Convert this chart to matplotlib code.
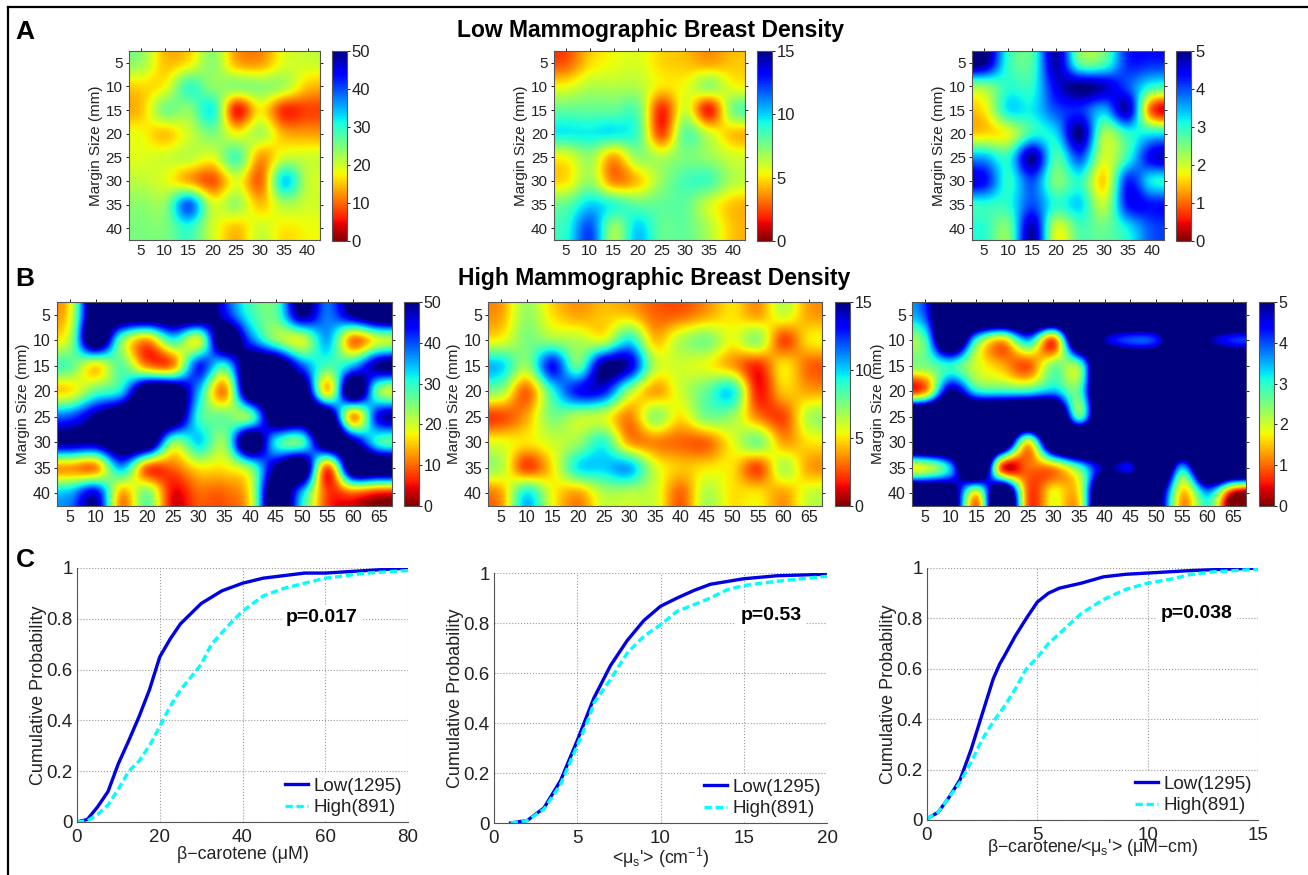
import matplotlib
matplotlib.use("Agg")
import matplotlib.pyplot as plt
import numpy as np

plt.rcParams['font.family'] = ['Liberation Sans', 'DejaVu Sans']
plt.rcParams['mathtext.fontset'] = 'custom'
plt.rcParams['mathtext.rm'] = 'Liberation Sans'
plt.rcParams['mathtext.it'] = 'Liberation Sans:italic'
plt.rcParams['mathtext.default'] = 'regular'

# tick labels
margin_ticks = [5, 10, 15, 20, 25, 30, 35, 40]
wide_ticks = [5, 10, 15, 20, 25, 30, 35, 40, 45, 50, 55, 60, 65]

# low density maps, rows = 5..40 mm, columns = 5..40 mm
low_carotene = [
    [23, 15, 17, 24, 14, 13, 19, 20],
    [16, 18, 29, 24, 24, 24, 22, 15],
    [15, 25, 24, 31, 6, 17, 7, 8],
    [18, 15, 20, 25, 18, 22, 14, 13],
    [19, 20, 21, 19, 28, 13, 20, 20],
    [21, 19, 14, 9, 19, 10, 33, 21],
    [24, 24, 39, 20, 23, 15, 22, 20],
    [25, 25, 30, 20, 15, 20, 17, 18],
]
low_scatter = [
    [2.8, 4.8, 5.5, 5.8, 4.8, 4.5, 4, 4.5],
    [5.5, 6.5, 6.5, 6.5, 5, 5.5, 7, 5.5],
    [8, 8, 8, 8, 2, 6, 1.8, 7.5],
    [9.5, 9.5, 9.5, 8.5, 2.5, 8, 6, 4.5],
    [5.5, 7, 4, 7, 6.5, 7.5, 7, 6],
    [5, 7, 3.5, 4.5, 7, 8.5, 8.5, 6.5],
    [8, 10, 9, 8, 8, 8, 6, 4.5],
    [9, 12, 7, 10, 8, 8, 6.5, 4.5],
]
low_ratio = [
    [5, 3, 2.8, 4.8, 2.7, 2.8, 4.2, 4.2],
    [2.4, 3, 3, 4.5, 5, 4.7, 4, 3],
    [1.7, 3.2, 3.2, 4, 4.2, 3.5, 4.7, 0.9],
    [1.6, 1.9, 3, 3.3, 5, 2.3, 3, 3.2],
    [3.5, 3, 4.9, 2.8, 4, 2, 3, 4.5],
    [4.4, 3, 4, 2.5, 3, 1.6, 4.2, 3.2],
    [3, 3, 4, 3, 3.3, 2.1, 4.3, 4.3],
    [3, 2.5, 4.8, 2, 2.8, 2.6, 3.2, 4],
]

# high density maps, rows = 5..40 mm, columns = 5..65 mm
high_carotene = [
    [18, 60, 60, 60, 60, 60, 45, 30, 27, 50, 38, 50, 60],
    [22, 60, 26, 13, 30, 20, 60, 40, 25, 20, 35, 11, 20],
    [27, 17, 27, 12, 12, 42, 30, 60, 60, 40, 28, 35, 50],
    [17, 27, 33, 60, 60, 35, 12, 60, 60, 60, 16, 60, 25],
    [40, 50, 60, 60, 60, 30, 26, 26, 60, 60, 60, 13, 45],
    [50, 50, 60, 60, 25, 33, 24, 60, 32, 28, 60, 50, 30],
    [13, 12, 35, 10, 10, 17, 17, 25, 50, 60, 10, 60, 60],
    [35, 45, 14, 25, 5, 10, 10, 18, 60, 35, 8, 10, 6],
]
high_scatter = [
    [4, 7, 5, 4, 4.5, 4.5, 3, 3, 4, 5, 4, 6, 4],
    [5.5, 7.5, 7, 6.5, 6, 9.5, 4.5, 6.5, 7.5, 5.5, 7, 2.5, 5],
    [10, 7, 13, 8, 15, 14, 6.5, 6, 5.5, 4, 2, 5, 3],
    [7, 3, 9, 13, 13, 7, 4, 6, 8, 9.5, 1.8, 4.5, 4],
    [2.5, 4, 7.5, 6.5, 6, 3.5, 7, 5, 7.5, 7, 3.5, 2.5, 6.5],
    [5.5, 5, 6, 7, 9, 4, 3.5, 3, 3, 5.5, 7.5, 4, 5],
    [6.5, 2.5, 5, 9.5, 10, 10.5, 6, 4.5, 5, 5, 2.5, 6.5, 4],
    [4, 9.5, 5.5, 4, 6.5, 6.5, 6, 3, 6.5, 5, 5, 4, 6],
]
high_ratio = [
    [4, 8, 8, 8, 8, 8, 8, 8, 8, 8, 8, 8, 8],
    [2.8, 7, 3, 1.5, 3.5, 1, 7, 4.8, 4, 4.3, 7, 5, 4.2],
    [2.5, 3, 2, 1.4, 0.9, 2.5, 2.6, 8, 8, 8, 8, 8, 8],
    [1.2, 5, 3.2, 3, 3, 3.5, 2.8, 8, 8, 8, 8, 8, 8],
    [8, 8, 8, 8, 8, 8, 2.8, 8, 8, 8, 8, 8, 8],
    [8, 8, 8, 7, 1.8, 7, 8, 8, 8, 8, 8, 8, 8],
    [2, 3.5, 8, 0.8, 1, 1.3, 2.8, 5, 4.5, 8, 3.5, 8, 8],
    [7, 6, 1.8, 7, 1, 1.8, 1.8, 8, 8, 6, 1.5, 3.5, 0.3],
]

# cumulative curves
carotene_low_x = [0, 2.5, 5, 7.5, 10, 12.5, 15, 17.5, 20, 22.5, 25, 27.5, 30, 35, 40, 45, 50, 55, 60, 65, 70, 80]
carotene_low_y = [0, 0.01, 0.06, 0.12, 0.23, 0.32, 0.415, 0.52, 0.65, 0.72, 0.78, 0.82, 0.86, 0.91, 0.94, 0.96, 0.97, 0.98, 0.98, 0.985, 0.99, 1]
carotene_high_x = [0, 2.5, 5, 7.5, 10, 12.5, 15, 17.5, 20, 22.5, 25, 27.5, 30, 32.5, 35, 37.5, 40, 45, 50, 55, 60, 65, 70, 75, 80]
carotene_high_y = [0, 0.005, 0.03, 0.067, 0.13, 0.2, 0.24, 0.3, 0.376, 0.455, 0.52, 0.57, 0.62, 0.7, 0.745, 0.79, 0.83, 0.89, 0.92, 0.94, 0.96, 0.97, 0.98, 0.985, 0.99]
scatter_low_x = [1, 2, 3, 4, 5, 6, 7, 8, 9, 10, 11, 12, 13, 15, 17, 20]
scatter_low_y = [0, 0.01, 0.06, 0.17, 0.33, 0.5, 0.63, 0.73, 0.81, 0.867, 0.9, 0.93, 0.955, 0.977, 0.989, 0.995]
scatter_high_x = [1, 2, 3, 4, 5, 5.7, 6, 7, 8, 9, 10, 11, 12, 13, 14, 15, 17, 20]
scatter_high_y = [0, 0.01, 0.055, 0.155, 0.31, 0.42, 0.48, 0.575, 0.68, 0.747, 0.793, 0.847, 0.873, 0.9, 0.933, 0.95, 0.967, 0.987]
ratio_low_x = [0, 0.5, 1, 1.5, 2, 2.5, 3, 3.3, 3.5, 4, 4.5, 5, 5.5, 6, 7, 8, 9, 10, 12, 15]
ratio_low_y = [0.005, 0.03, 0.09, 0.16, 0.28, 0.42, 0.56, 0.62, 0.65, 0.73, 0.8, 0.865, 0.9, 0.92, 0.94, 0.965, 0.975, 0.98, 0.99, 1]
ratio_high_x = [0, 0.5, 1, 1.5, 2, 2.5, 3, 3.5, 4, 4.5, 5, 5.5, 6, 7, 8, 9, 10, 11, 12, 13, 15]
ratio_high_y = [0.005, 0.03, 0.09, 0.15, 0.23, 0.32, 0.39, 0.45, 0.52, 0.6, 0.645, 0.7, 0.74, 0.82, 0.875, 0.915, 0.94, 0.955, 0.975, 0.985, 0.995]

W, H = 1308, 875
GRAY = '#555555'
TXT = '#222222'

fig = plt.figure(figsize=(W / 100, H / 100), dpi=100, facecolor='white')


def px_axes(x0, x1, y0, y1):
    return fig.add_axes([x0 / W, 1 - y1 / H, (x1 - x0) / W, (y1 - y0) / H])


def heat(data, box, cbox, vmax, xticks, xmax, cticks, fs, cfs):
    ax = px_axes(*box)
    im = ax.imshow(np.array(data, dtype=float), cmap='jet_r', vmin=0, vmax=vmax,
                   interpolation='catrom', aspect='auto',
                   extent=[2.5, xmax, 42.5, 2.5])
    ax.set_xticks(xticks)
    ax.set_yticks(margin_ticks)
    ax.tick_params(labelsize=fs, colors=TXT, length=2.5, width=0.7, direction='out',
                   top=True, right=True, bottom=False, pad=2)
    ax.tick_params(axis='x', pad=0.5)
    ax.set_ylabel('Margin Size (mm)', fontsize=11, color=TXT, labelpad=2)
    for s in ax.spines.values():
        s.set_color(GRAY)
    cax = px_axes(*cbox)
    cb = fig.colorbar(im, cax=cax, ticks=cticks)
    cb.ax.tick_params(labelsize=cfs, colors=TXT, length=2.5, width=0.7, direction='out', pad=1)
    cb.outline.set_edgecolor(GRAY)
    return ax


heat(low_carotene, (129, 319.5, 51, 240), (332, 347, 51, 241), 50, margin_ticks, 42.5, [0, 10, 20, 30, 40, 50], 11, 12)
heat(low_scatter, (554, 745, 51, 240), (757, 772, 51, 241), 15, margin_ticks, 42.5, [0, 5, 10, 15], 11, 12)
heat(low_ratio, (972, 1164, 51, 240), (1176, 1191, 51, 241), 5, margin_ticks, 42.5, [0, 1, 2, 3, 4, 5], 11, 12)
heat(high_carotene, (57, 392, 302, 506), (404, 419, 302, 506), 50, wide_ticks, 67.5, [0, 10, 20, 30, 40, 50], 11.5, 11.5)
heat(high_scatter, (488, 822, 302, 506), (835, 850, 302, 506), 15, wide_ticks, 67.5, [0, 5, 10, 15], 11.5, 11.5)
heat(high_ratio, (912, 1246, 302, 506), (1259, 1274, 302, 506), 5, wide_ticks, 67.5, [0, 1, 2, 3, 4, 5], 11.5, 11.5)


def cdf(box, lx, ly, hx, hy, xmax, xticks, xlabel, ptext, ppos, lab_pad):
    ax = px_axes(*box)
    ax.plot(lx, ly, color='#0000e6', lw=2.4, label='Low(1295)')
    ax.plot(hx, hy, color='#00ffff', lw=2.4, ls=(0, (2.2, 1.1)), label='High(891)')
    ax.set_xlim(0, xmax)
    ax.set_ylim(0, 1)
    ax.set_xticks(xticks)
    ax.set_yticks([0, 0.2, 0.4, 0.6, 0.8, 1])
    ax.set_yticklabels(['0', '0.2', '0.4', '0.6', '0.8', '1'])
    ax.grid(True, ls=':', color='#999999', lw=0.8)
    ax.set_axisbelow(True)
    ax.tick_params(labelsize=13.5, colors=TXT, length=0, pad=3)
    ax.tick_params(axis='x', pad=5)
    ax.set_xlabel(xlabel, fontsize=12.8, color=TXT, labelpad=lab_pad)
    ax.set_ylabel('Cumulative Probability', fontsize=13, color=TXT, labelpad=0)
    ax.spines['top'].set_visible(False)
    ax.spines['right'].set_visible(False)
    ax.spines['left'].set_color(GRAY)
    ax.spines['bottom'].set_color(GRAY)
    ax.text(ppos[0], ppos[1], ptext, transform=ax.transAxes, fontsize=14, fontweight='bold',
            ha='center', va='center', color='black',
            bbox=dict(facecolor='white', edgecolor='none', pad=3))
    leg = ax.legend(loc='lower right', fontsize=13.5, frameon=True, framealpha=1, edgecolor='none',
                    borderaxespad=0.1, labelspacing=0.25, handlelength=1.25, handletextpad=0.3,
                    borderpad=0.2, fancybox=False)
    for t in leg.get_texts():
        t.set_color(TXT)
    return ax


cdf((77, 408, 568, 822), carotene_low_x, carotene_low_y, carotene_high_x, carotene_high_y, 80,
    [0, 20, 40, 60, 80], 'β−carotene (μM)', 'p=0.017', (0.74, 0.805), 0)
cdf((494, 827, 573, 823), scatter_low_x, scatter_low_y, scatter_high_x, scatter_high_y, 20,
    [0, 5, 10, 15, 20], "<μ$_s$'> (cm$^{-1}$)", 'p=0.53', (0.832, 0.828), -1)
cdf((927, 1258, 568, 820), ratio_low_x, ratio_low_y, ratio_high_x, ratio_high_y, 15,
    [0, 5, 10, 15], "β−carotene/<μ$_s$'> (μM−cm)", 'p=0.038', (0.816, 0.82), -5)

# titles and panel letters
fig.text(651 / W, 1 - 30 / H, 'Low Mammographic Breast Density', fontsize=16.5, fontweight='bold',
         ha='center', va='center', color='black')
fig.text(654 / W, 1 - 279 / H, 'High Mammographic Breast Density', fontsize=16.5, fontweight='bold',
         ha='center', va='center', color='black')
for letter, lx, ly in [('A', 25, 32), ('B', 25, 279), ('C', 25, 560)]:
    fig.text(lx / W, 1 - ly / H, letter, fontsize=19, fontweight='bold', ha='center', va='center', color='black')

# frame of the figure
fig.add_artist(plt.Line2D([8 / W, 8 / W], [0, 1 - 7 / H], color='black', lw=1.6))
fig.add_artist(plt.Line2D([8 / W, 1], [1 - 7 / H, 1 - 7 / H], color='black', lw=1.6))

fig.savefig('out.png', dpi=100)
